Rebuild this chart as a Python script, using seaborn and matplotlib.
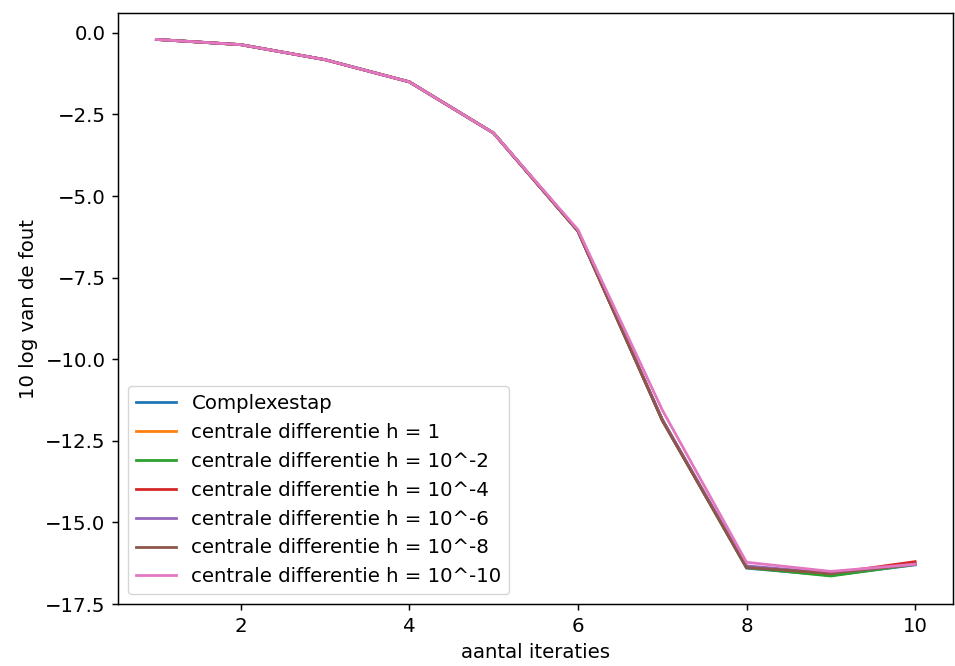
import matplotlib
matplotlib.use("Agg")
import matplotlib.pyplot as plt
import seaborn as sns
import pandas as pd

iteraties = [1, 2, 3, 4, 5, 6, 7, 8, 9, 10]
labels = [
    "Complexestap",
    "centrale differentie h = 1",
    "centrale differentie h = 10^-2",
    "centrale differentie h = 10^-4",
    "centrale differentie h = 10^-6",
    "centrale differentie h = 10^-8",
    "centrale differentie h = 10^-10",
]
complexestap = [-0.20, -0.36, -0.82, -1.50, -3.07, -6.07, -11.85, -16.40, -16.62, -16.30]
h1 = [-0.20, -0.36, -0.82, -1.50, -3.07, -6.07, -11.85, -16.38, -16.60, -16.28]
h2 = [-0.20, -0.36, -0.82, -1.50, -3.07, -6.07, -11.85, -16.38, -16.64, -16.28]
h4 = [-0.20, -0.36, -0.82, -1.50, -3.07, -6.07, -11.85, -16.36, -16.56, -16.20]
h6 = [-0.20, -0.36, -0.82, -1.50, -3.07, -6.07, -11.85, -16.33, -16.55, -16.28]
h8 = [-0.20, -0.36, -0.82, -1.50, -3.07, -6.07, -11.88, -16.38, -16.55, -16.28]
h10 = [-0.20, -0.36, -0.82, -1.50, -3.07, -6.03, -11.55, -16.22, -16.50, -16.28]

series = [complexestap, h1, h2, h4, h6, h8, h10]
rows = []
for lab, vals in zip(labels, series):
    for x, y in zip(iteraties, vals):
        rows.append({"x": x, "y": y, "serie": lab})
df = pd.DataFrame(rows)

s = 1.33
fs = 14.2
plt.rcParams.update({
    "font.size": fs,
    "axes.linewidth": 0.8 * s,
    "xtick.major.width": 0.8 * s,
    "ytick.major.width": 0.8 * s,
    "xtick.major.size": 3.5 * s,
    "ytick.major.size": 3.5 * s,
    "xtick.major.pad": 3.5 * s,
    "ytick.major.pad": 3.5 * s,
    "axes.labelpad": 4 * s,
})

fig = plt.figure(figsize=(9.55, 6.66), dpi=100)
ax = fig.add_axes([0.124, 0.093, 0.874, 0.887])
sns.lineplot(data=df, x="x", y="y", hue="serie", hue_order=labels,
             palette=sns.color_palette("tab10", 7), ax=ax, linewidth=1.5 * s)
ax.set_ylim(-17.5, 0.6)
ax.set_xlabel("aantal iteraties", fontsize=fs)
ax.set_ylabel("10 log van de fout", fontsize=fs)
ax.tick_params(labelsize=fs)
ax.legend(loc="lower left", fontsize=fs)
fig.savefig("out.png", dpi=100)
